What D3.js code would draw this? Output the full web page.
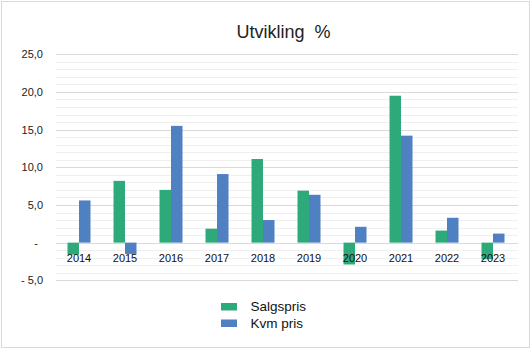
<!DOCTYPE html>
<html><head><meta charset="utf-8">
<script src="https://cdn.jsdelivr.net/npm/d3@7"></script>
<style>
body{margin:0;background:#fff;}
text{font-family:"Liberation Sans",Arial,sans-serif;}
</style></head>
<body><svg id="c" width="531" height="349"></svg>
<script>
const categories = ["2014","2015","2016","2017","2018","2019","2020","2021","2022","2023"];
const salgspris = [-1.6, 8.2, 7.0, 1.85, 11.1, 6.9, -2.9, 19.5, 1.6, -2.2];
const kvmPris   = [5.6, -1.5, 15.5, 9.1, 3.0, 6.35, 2.1, 14.2, 3.3, 1.2];
const seriesNames = ["Salgspris","Kvm pris"];
const seriesColors = ["#2ea97a","#4f80c1"];
const yTicks = [-5, 0, 5, 10, 15, 20, 25];
const yTickLabels = ["- 5,0", "-", "5,0", "10,0", "15,0", "20,0", "25,0"];
const minorTicks = [-4,-3,-2,-1,1,2,3,4,6,7,8,9,11,12,13,14,16,17,18,19,21,22,23,24];
const title = "Utvikling  %";

const svg = d3.select("#c");
svg.append("rect").attr("x",1.5).attr("y",1.5).attr("width",528).attr("height",346)
  .attr("fill","#fff").attr("stroke","#d9d9d9");

const x = d3.scaleBand().domain(categories).range([56,516]).paddingInner(0).paddingOuter(0);
const y = d3.scaleLinear().domain([-5,25]).range([280.3,54.3]);
const xs = d3.scaleBand().domain(seriesNames).range([0, x.bandwidth()]).paddingInner(0).paddingOuter(1);

// minor grid
svg.append("g").selectAll("line").data(minorTicks).join("line")
  .attr("x1",56).attr("x2",518)
  .attr("y1",d=>Math.round(y(d))+0.5).attr("y2",d=>Math.round(y(d))+0.5)
  .attr("stroke","#efefef");
// major grid
svg.append("g").selectAll("line").data(yTicks).join("line")
  .attr("x1",56).attr("x2",518)
  .attr("y1",d=>Math.round(y(d))+0.5).attr("y2",d=>Math.round(y(d))+0.5)
  .attr("stroke","#d9d9d9");

// y labels
const yAxis = d3.axisLeft(y).tickValues(yTicks).tickSize(0).tickPadding(0)
  .tickFormat((d,i)=>yTickLabels[i]);
const ya = svg.append("g").attr("transform","translate(43,0)").call(yAxis);
ya.select(".domain").remove();
ya.selectAll("text").attr("font-size",11).attr("fill","#222")
  .attr("font-family","'Liberation Sans',Arial,sans-serif")
  .attr("dx",(d,i)=>yTickLabels[i]==="-"?-5:0);

// bars
const data = categories.map((c,i)=>({c, vals:[salgspris[i], kvmPris[i]]}));
const groups = svg.append("g").selectAll("g").data(data).join("g")
  .attr("transform",d=>`translate(${x(d.c)},0)`);
groups.selectAll("rect").data(d=>d.vals.map((v,j)=>({v,s:seriesNames[j],j}))).join("rect")
  .attr("x",d=>xs(d.s)).attr("width",xs.bandwidth())
  .attr("y",d=>y(Math.max(0,d.v))).attr("height",d=>Math.abs(y(d.v)-y(0)))
  .attr("fill",d=>seriesColors[d.j]);

// x labels
const xAxis = d3.axisBottom(x).tickSize(0).tickPadding(0);
const xa = svg.append("g").attr("transform",`translate(0,${y(0)})`).call(xAxis);
xa.select(".domain").remove();
xa.selectAll("text").attr("font-size",11).attr("fill","#111")
  .attr("font-family","'Liberation Sans',Arial,sans-serif")
  .attr("y",0).attr("dy","1.75em");

// title
svg.append("text").attr("x",283.5).attr("y",38).attr("text-anchor","middle")
  .attr("font-size",18).attr("fill","#222").style("white-space","pre").text(title);

// legend
const lg = svg.append("g").selectAll("g").data(seriesNames).join("g")
  .attr("transform",(d,i)=>`translate(221,${303+i*16.5})`);
lg.append("rect").attr("width",16).attr("height",7.5).attr("fill",(d,i)=>seriesColors[i]);
lg.append("text").attr("x",29.5).attr("y",8).attr("font-size",13.5).attr("fill","#111").text(d=>d);
</script></body></html>
